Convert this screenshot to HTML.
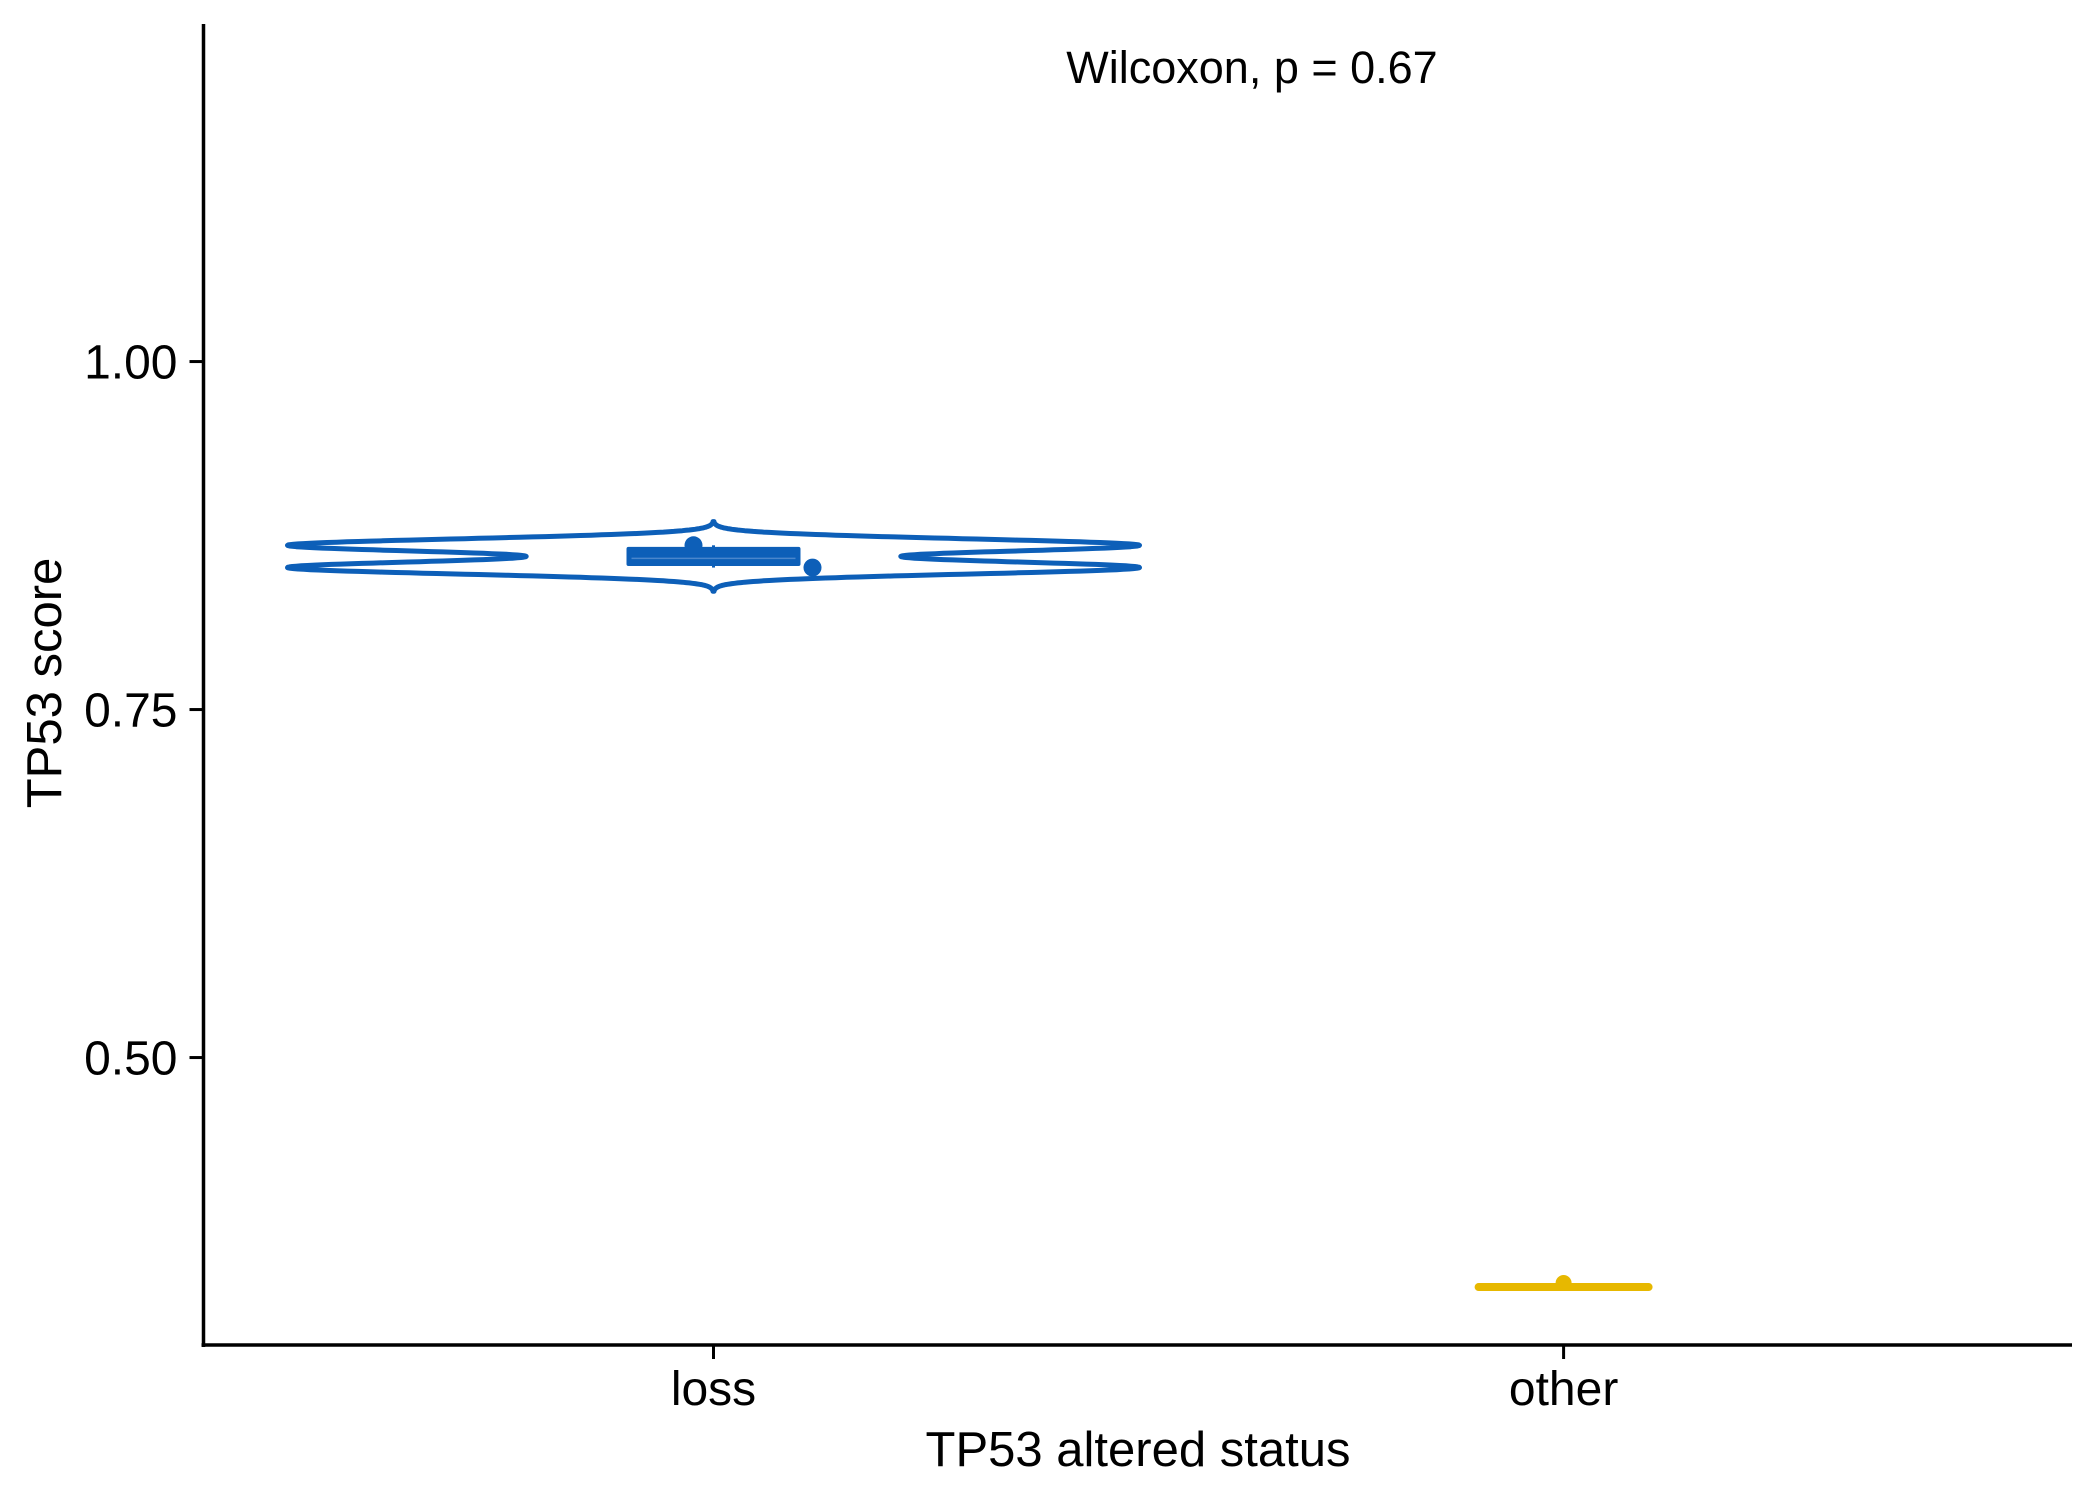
<!DOCTYPE html>
<html><head><meta charset="utf-8"><style>
html,body{margin:0;padding:0;background:#fff;}
svg{display:block;font-family:"Liberation Sans",Arial,sans-serif;}
</style></head><body>
<svg id="chart" width="2099" height="1499" viewBox="0 0 2099 1499">
<g id="plot"></g>
</svg>
<script>
const categories = ["loss", "other"];
const lossValues = [0.868, 0.852];
const otherValues = [0.338];
const yTicks = [0.50, 0.75, 1.00];
const yTickLabels = ["0.50", "0.75", "1.00"];
const statLabel = "Wilcoxon, p = 0.67";

const NS = "http://www.w3.org/2000/svg";
const svg = document.getElementById("chart");
const L = 203.5, R = 2072, T = 24, B = 1345;
const yMin = 0.2935, yMax = 1.2425;
function y(v){ return B - (v - yMin) / (yMax - yMin) * (B - T); }
function x(i){ return 713.5 + i * (1563.6 - 713.5); }
function mk(tag, attrs, parent){
  const e = document.createElementNS(NS, tag);
  for (const k in attrs) e.setAttribute(k, attrs[k]);
  (parent || svg).appendChild(e);
  return e;
}
const colors = ["#0D5FB8", "#E7B800"];

let e = mk("line", {x1:L, y1:T, x2:L, y2:B+2, stroke:"#000", "stroke-width":3.5});


e = mk("line", {x1:L-2, y1:B, x2:R, y2:B, stroke:"#000", "stroke-width":3.5});



yTicks.forEach((v, i) => {
  let t = mk("line", {x1:L-14, x2:L, y1:y(v), y2:y(v), stroke:"#000", "stroke-width":3});
  
  
  let lb = mk("text", {x:L-26, y:y(v)+17, "text-anchor":"end", "font-size":48, fill:"#000"});
  lb.textContent = yTickLabels[i];
  
  
});
categories.forEach((c, i) => {
  let t = mk("line", {x1:x(i), x2:x(i), y1:B, y2:B+14, stroke:"#000", "stroke-width":3});
  
  
  let lb = mk("text", {x:x(i), y:1405, "text-anchor":"middle", "font-size":48, fill:"#000"});
  lb.textContent = c;
  
  
});

let yt = mk("text", {x:0, y:0, transform:"translate(61,683) rotate(-90)", "text-anchor":"middle", "font-size":49, fill:"#000"});
yt.textContent = "TP53 score";


let xt = mk("text", {x:1138, y:1466, "text-anchor":"middle", "font-size":49, fill:"#000"});
xt.textContent = "TP53 altered status";


let st = mk("text", {x:1252, y:83, "text-anchor":"middle", "font-size":45, fill:"#000"});
st.textContent = statLabel;



function drawViolin(vals, i, col){
  const cx = x(i);
  if (vals.length < 2){
    let ln = mk("line", {x1:cx-85, x2:cx+85, y1:y(vals[0])+4, y2:y(vals[0])+4, stroke:col, "stroke-width":8, "stroke-linecap":"round"});
    
    
    return;
  }
  const bw = 0.0046, ext = 3.7 * bw;
  const lo = Math.min(...vals) - ext, hi = Math.max(...vals) + ext;
  const n = 200, dens = [];
  for (let k = 0; k <= n; k++){
    const v = lo + (hi - lo) * k / n;
    let d = 0;
    vals.forEach(p => d += Math.exp(-0.5 * ((v - p) / bw) ** 2));
    dens.push([v, d]);
  }
  const maxD = Math.max(...dens.map(d => d[1]));
  const hw = 426;
  let pts = dens.map(d => [cx + d[1] / maxD * hw, y(d[0])]);
  let pts2 = dens.slice().reverse().map(d => [cx - d[1] / maxD * hw, y(d[0])]);
  const all = pts.concat(pts2);
  let p = mk("path", {d:"M" + all.map(q => q[0].toFixed(1) + "," + q[1].toFixed(1)).join("L") + "Z", fill:"none", stroke:col, "stroke-width":5, "stroke-linejoin":"round"});
  
  

  const s = vals.slice().sort((a, b) => a - b);
  const q = f => s[0] + (s[s.length-1] - s[0]) * f;
  const q1 = q(0.25), med = q(0.5), q3 = q(0.75);
  let w = mk("line", {x1:cx, x2:cx, y1:y(s[s.length-1]), y2:y(s[0]), stroke:col, "stroke-width":3});
  
  
  let b = mk("rect", {x:cx-87, y:y(q3)-4, width:174, height:y(q1)-y(q3)+8, fill:col, rx:2});
  
  
  let m = mk("line", {x1:cx-82, x2:cx+82, y1:y(med)+2, y2:y(med)+2, stroke:"#4a86cc", "stroke-width":1.5});
  
  
}
drawViolin(lossValues, 0, colors[0]);
drawViolin(otherValues, 1, colors[1]);

lossValues.forEach((v, k) => {
  let c = mk("circle", {cx:x(0) + (k === 0 ? -20 : 99), cy:y(v), r:9, fill:colors[0]});
  
  
});
otherValues.forEach(v => {
  let c = mk("circle", {cx:x(1), cy:y(v), r:8, fill:colors[1]});
  
  
});
</script>
</body></html>
